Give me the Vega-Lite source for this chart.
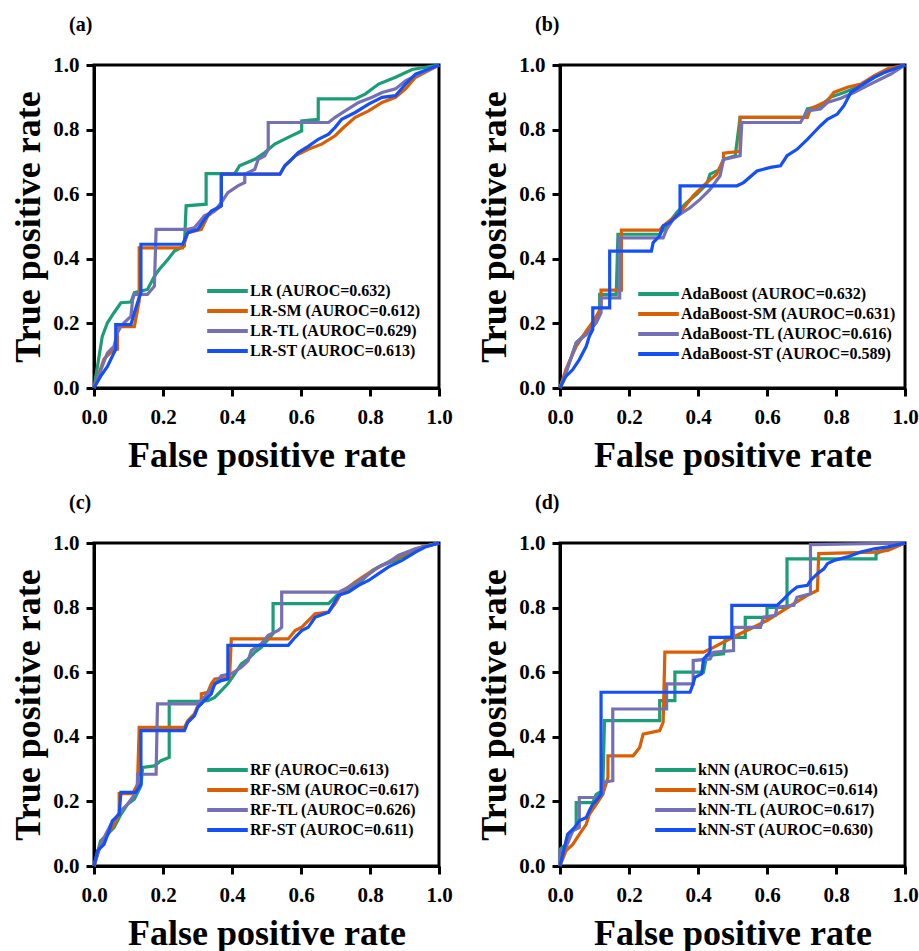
{
"$schema": "https://vega.github.io/schema/vega-lite/v6.json",
"padding": {"left": 9, "top": 13, "right": 0, "bottom": 0},
"datasets": {
"roc": [
{"p":"a","m":"LR (AUROC=0.632)","x":0,"y":0},{"p":"a","m":"LR (AUROC=0.632)","x":0.024,"y":0.16},{"p":"a","m":"LR (AUROC=0.632)","x":0.039,"y":0.202},{"p":"a","m":"LR (AUROC=0.632)","x":0.058,"y":0.233},{"p":"a","m":"LR (AUROC=0.632)","x":0.078,"y":0.264},{"p":"a","m":"LR (AUROC=0.632)","x":0.107,"y":0.266},{"p":"a","m":"LR (AUROC=0.632)","x":0.117,"y":0.295},{"p":"a","m":"LR (AUROC=0.632)","x":0.155,"y":0.305},{"p":"a","m":"LR (AUROC=0.632)","x":0.175,"y":0.346},{"p":"a","m":"LR (AUROC=0.632)","x":0.189,"y":0.367},{"p":"a","m":"LR (AUROC=0.632)","x":0.214,"y":0.398},{"p":"a","m":"LR (AUROC=0.632)","x":0.233,"y":0.424},{"p":"a","m":"LR (AUROC=0.632)","x":0.262,"y":0.44},{"p":"a","m":"LR (AUROC=0.632)","x":0.267,"y":0.564},{"p":"a","m":"LR (AUROC=0.632)","x":0.325,"y":0.569},{"p":"a","m":"LR (AUROC=0.632)","x":0.325,"y":0.664},{"p":"a","m":"LR (AUROC=0.632)","x":0.408,"y":0.664},{"p":"a","m":"LR (AUROC=0.632)","x":0.422,"y":0.688},{"p":"a","m":"LR (AUROC=0.632)","x":0.466,"y":0.708},{"p":"a","m":"LR (AUROC=0.632)","x":0.495,"y":0.729},{"p":"a","m":"LR (AUROC=0.632)","x":0.524,"y":0.755},{"p":"a","m":"LR (AUROC=0.632)","x":0.563,"y":0.776},{"p":"a","m":"LR (AUROC=0.632)","x":0.602,"y":0.796},{"p":"a","m":"LR (AUROC=0.632)","x":0.602,"y":0.827},{"p":"a","m":"LR (AUROC=0.632)","x":0.65,"y":0.832},{"p":"a","m":"LR (AUROC=0.632)","x":0.65,"y":0.895},{"p":"a","m":"LR (AUROC=0.632)","x":0.757,"y":0.895},{"p":"a","m":"LR (AUROC=0.632)","x":0.786,"y":0.91},{"p":"a","m":"LR (AUROC=0.632)","x":0.825,"y":0.941},{"p":"a","m":"LR (AUROC=0.632)","x":0.874,"y":0.962},{"p":"a","m":"LR (AUROC=0.632)","x":0.922,"y":0.986},{"p":"a","m":"LR (AUROC=0.632)","x":1,"y":1},
{"p":"a","m":"LR-SM (AUROC=0.612)","x":0,"y":0},{"p":"a","m":"LR-SM (AUROC=0.612)","x":0.029,"y":0.09},{"p":"a","m":"LR-SM (AUROC=0.612)","x":0.058,"y":0.12},{"p":"a","m":"LR-SM (AUROC=0.612)","x":0.068,"y":0.12},{"p":"a","m":"LR-SM (AUROC=0.612)","x":0.068,"y":0.19},{"p":"a","m":"LR-SM (AUROC=0.612)","x":0.117,"y":0.19},{"p":"a","m":"LR-SM (AUROC=0.612)","x":0.131,"y":0.27},{"p":"a","m":"LR-SM (AUROC=0.612)","x":0.131,"y":0.434},{"p":"a","m":"LR-SM (AUROC=0.612)","x":0.257,"y":0.434},{"p":"a","m":"LR-SM (AUROC=0.612)","x":0.272,"y":0.481},{"p":"a","m":"LR-SM (AUROC=0.612)","x":0.311,"y":0.491},{"p":"a","m":"LR-SM (AUROC=0.612)","x":0.33,"y":0.533},{"p":"a","m":"LR-SM (AUROC=0.612)","x":0.369,"y":0.564},{"p":"a","m":"LR-SM (AUROC=0.612)","x":0.369,"y":0.662},{"p":"a","m":"LR-SM (AUROC=0.612)","x":0.539,"y":0.662},{"p":"a","m":"LR-SM (AUROC=0.612)","x":0.553,"y":0.688},{"p":"a","m":"LR-SM (AUROC=0.612)","x":0.583,"y":0.719},{"p":"a","m":"LR-SM (AUROC=0.612)","x":0.621,"y":0.739},{"p":"a","m":"LR-SM (AUROC=0.612)","x":0.66,"y":0.755},{"p":"a","m":"LR-SM (AUROC=0.612)","x":0.699,"y":0.781},{"p":"a","m":"LR-SM (AUROC=0.612)","x":0.718,"y":0.801},{"p":"a","m":"LR-SM (AUROC=0.612)","x":0.757,"y":0.838},{"p":"a","m":"LR-SM (AUROC=0.612)","x":0.796,"y":0.858},{"p":"a","m":"LR-SM (AUROC=0.612)","x":0.835,"y":0.884},{"p":"a","m":"LR-SM (AUROC=0.612)","x":0.874,"y":0.9},{"p":"a","m":"LR-SM (AUROC=0.612)","x":0.903,"y":0.926},{"p":"a","m":"LR-SM (AUROC=0.612)","x":0.932,"y":0.962},{"p":"a","m":"LR-SM (AUROC=0.612)","x":1,"y":1},
{"p":"a","m":"LR-TL (AUROC=0.629)","x":0,"y":0},{"p":"a","m":"LR-TL (AUROC=0.629)","x":0.039,"y":0.109},{"p":"a","m":"LR-TL (AUROC=0.629)","x":0.058,"y":0.129},{"p":"a","m":"LR-TL (AUROC=0.629)","x":0.068,"y":0.171},{"p":"a","m":"LR-TL (AUROC=0.629)","x":0.078,"y":0.191},{"p":"a","m":"LR-TL (AUROC=0.629)","x":0.087,"y":0.202},{"p":"a","m":"LR-TL (AUROC=0.629)","x":0.107,"y":0.222},{"p":"a","m":"LR-TL (AUROC=0.629)","x":0.112,"y":0.274},{"p":"a","m":"LR-TL (AUROC=0.629)","x":0.117,"y":0.29},{"p":"a","m":"LR-TL (AUROC=0.629)","x":0.155,"y":0.29},{"p":"a","m":"LR-TL (AUROC=0.629)","x":0.175,"y":0.315},{"p":"a","m":"LR-TL (AUROC=0.629)","x":0.18,"y":0.491},{"p":"a","m":"LR-TL (AUROC=0.629)","x":0.272,"y":0.491},{"p":"a","m":"LR-TL (AUROC=0.629)","x":0.291,"y":0.496},{"p":"a","m":"LR-TL (AUROC=0.629)","x":0.32,"y":0.533},{"p":"a","m":"LR-TL (AUROC=0.629)","x":0.35,"y":0.548},{"p":"a","m":"LR-TL (AUROC=0.629)","x":0.369,"y":0.574},{"p":"a","m":"LR-TL (AUROC=0.629)","x":0.388,"y":0.605},{"p":"a","m":"LR-TL (AUROC=0.629)","x":0.417,"y":0.626},{"p":"a","m":"LR-TL (AUROC=0.629)","x":0.437,"y":0.636},{"p":"a","m":"LR-TL (AUROC=0.629)","x":0.437,"y":0.662},{"p":"a","m":"LR-TL (AUROC=0.629)","x":0.466,"y":0.677},{"p":"a","m":"LR-TL (AUROC=0.629)","x":0.476,"y":0.708},{"p":"a","m":"LR-TL (AUROC=0.629)","x":0.495,"y":0.719},{"p":"a","m":"LR-TL (AUROC=0.629)","x":0.505,"y":0.739},{"p":"a","m":"LR-TL (AUROC=0.629)","x":0.505,"y":0.822},{"p":"a","m":"LR-TL (AUROC=0.629)","x":0.68,"y":0.822},{"p":"a","m":"LR-TL (AUROC=0.629)","x":0.699,"y":0.838},{"p":"a","m":"LR-TL (AUROC=0.629)","x":0.728,"y":0.858},{"p":"a","m":"LR-TL (AUROC=0.629)","x":0.767,"y":0.884},{"p":"a","m":"LR-TL (AUROC=0.629)","x":0.806,"y":0.9},{"p":"a","m":"LR-TL (AUROC=0.629)","x":0.835,"y":0.915},{"p":"a","m":"LR-TL (AUROC=0.629)","x":0.874,"y":0.926},{"p":"a","m":"LR-TL (AUROC=0.629)","x":0.903,"y":0.951},{"p":"a","m":"LR-TL (AUROC=0.629)","x":0.942,"y":0.972},{"p":"a","m":"LR-TL (AUROC=0.629)","x":1,"y":1},
{"p":"a","m":"LR-ST (AUROC=0.613)","x":0,"y":0},{"p":"a","m":"LR-ST (AUROC=0.613)","x":0.019,"y":0.036},{"p":"a","m":"LR-ST (AUROC=0.613)","x":0.039,"y":0.067},{"p":"a","m":"LR-ST (AUROC=0.613)","x":0.058,"y":0.109},{"p":"a","m":"LR-ST (AUROC=0.613)","x":0.063,"y":0.119},{"p":"a","m":"LR-ST (AUROC=0.613)","x":0.063,"y":0.196},{"p":"a","m":"LR-ST (AUROC=0.613)","x":0.107,"y":0.196},{"p":"a","m":"LR-ST (AUROC=0.613)","x":0.117,"y":0.233},{"p":"a","m":"LR-ST (AUROC=0.613)","x":0.126,"y":0.264},{"p":"a","m":"LR-ST (AUROC=0.613)","x":0.136,"y":0.295},{"p":"a","m":"LR-ST (AUROC=0.613)","x":0.136,"y":0.445},{"p":"a","m":"LR-ST (AUROC=0.613)","x":0.257,"y":0.445},{"p":"a","m":"LR-ST (AUROC=0.613)","x":0.272,"y":0.481},{"p":"a","m":"LR-ST (AUROC=0.613)","x":0.301,"y":0.491},{"p":"a","m":"LR-ST (AUROC=0.613)","x":0.32,"y":0.522},{"p":"a","m":"LR-ST (AUROC=0.613)","x":0.34,"y":0.548},{"p":"a","m":"LR-ST (AUROC=0.613)","x":0.369,"y":0.564},{"p":"a","m":"LR-ST (AUROC=0.613)","x":0.369,"y":0.662},{"p":"a","m":"LR-ST (AUROC=0.613)","x":0.539,"y":0.662},{"p":"a","m":"LR-ST (AUROC=0.613)","x":0.553,"y":0.688},{"p":"a","m":"LR-ST (AUROC=0.613)","x":0.573,"y":0.708},{"p":"a","m":"LR-ST (AUROC=0.613)","x":0.592,"y":0.729},{"p":"a","m":"LR-ST (AUROC=0.613)","x":0.621,"y":0.748},{"p":"a","m":"LR-ST (AUROC=0.613)","x":0.65,"y":0.77},{"p":"a","m":"LR-ST (AUROC=0.613)","x":0.68,"y":0.786},{"p":"a","m":"LR-ST (AUROC=0.613)","x":0.699,"y":0.807},{"p":"a","m":"LR-ST (AUROC=0.613)","x":0.718,"y":0.832},{"p":"a","m":"LR-ST (AUROC=0.613)","x":0.757,"y":0.853},{"p":"a","m":"LR-ST (AUROC=0.613)","x":0.796,"y":0.879},{"p":"a","m":"LR-ST (AUROC=0.613)","x":0.835,"y":0.9},{"p":"a","m":"LR-ST (AUROC=0.613)","x":0.874,"y":0.905},{"p":"a","m":"LR-ST (AUROC=0.613)","x":0.903,"y":0.941},{"p":"a","m":"LR-ST (AUROC=0.613)","x":0.932,"y":0.972},{"p":"a","m":"LR-ST (AUROC=0.613)","x":1,"y":1},

{"p":"b","m":"AdaBoost (AUROC=0.632)","x":0,"y":0},{"p":"b","m":"AdaBoost (AUROC=0.632)","x":0.017,"y":0.047},{"p":"b","m":"AdaBoost (AUROC=0.632)","x":0.047,"y":0.14},{"p":"b","m":"AdaBoost (AUROC=0.632)","x":0.076,"y":0.171},{"p":"b","m":"AdaBoost (AUROC=0.632)","x":0.095,"y":0.202},{"p":"b","m":"AdaBoost (AUROC=0.632)","x":0.115,"y":0.233},{"p":"b","m":"AdaBoost (AUROC=0.632)","x":0.115,"y":0.29},{"p":"b","m":"AdaBoost (AUROC=0.632)","x":0.163,"y":0.29},{"p":"b","m":"AdaBoost (AUROC=0.632)","x":0.168,"y":0.476},{"p":"b","m":"AdaBoost (AUROC=0.632)","x":0.289,"y":0.476},{"p":"b","m":"AdaBoost (AUROC=0.632)","x":0.309,"y":0.502},{"p":"b","m":"AdaBoost (AUROC=0.632)","x":0.338,"y":0.543},{"p":"b","m":"AdaBoost (AUROC=0.632)","x":0.367,"y":0.574},{"p":"b","m":"AdaBoost (AUROC=0.632)","x":0.396,"y":0.6},{"p":"b","m":"AdaBoost (AUROC=0.632)","x":0.425,"y":0.631},{"p":"b","m":"AdaBoost (AUROC=0.632)","x":0.435,"y":0.662},{"p":"b","m":"AdaBoost (AUROC=0.632)","x":0.464,"y":0.677},{"p":"b","m":"AdaBoost (AUROC=0.632)","x":0.474,"y":0.708},{"p":"b","m":"AdaBoost (AUROC=0.632)","x":0.508,"y":0.719},{"p":"b","m":"AdaBoost (AUROC=0.632)","x":0.522,"y":0.838},{"p":"b","m":"AdaBoost (AUROC=0.632)","x":0.707,"y":0.838},{"p":"b","m":"AdaBoost (AUROC=0.632)","x":0.717,"y":0.864},{"p":"b","m":"AdaBoost (AUROC=0.632)","x":0.755,"y":0.874},{"p":"b","m":"AdaBoost (AUROC=0.632)","x":0.784,"y":0.9},{"p":"b","m":"AdaBoost (AUROC=0.632)","x":0.823,"y":0.915},{"p":"b","m":"AdaBoost (AUROC=0.632)","x":0.872,"y":0.936},{"p":"b","m":"AdaBoost (AUROC=0.632)","x":0.911,"y":0.962},{"p":"b","m":"AdaBoost (AUROC=0.632)","x":0.95,"y":0.982},{"p":"b","m":"AdaBoost (AUROC=0.632)","x":1,"y":1},
{"p":"b","m":"AdaBoost-SM (AUROC=0.631)","x":0,"y":0},{"p":"b","m":"AdaBoost-SM (AUROC=0.631)","x":0.017,"y":0.057},{"p":"b","m":"AdaBoost-SM (AUROC=0.631)","x":0.047,"y":0.129},{"p":"b","m":"AdaBoost-SM (AUROC=0.631)","x":0.076,"y":0.176},{"p":"b","m":"AdaBoost-SM (AUROC=0.631)","x":0.1,"y":0.212},{"p":"b","m":"AdaBoost-SM (AUROC=0.631)","x":0.119,"y":0.248},{"p":"b","m":"AdaBoost-SM (AUROC=0.631)","x":0.119,"y":0.303},{"p":"b","m":"AdaBoost-SM (AUROC=0.631)","x":0.178,"y":0.303},{"p":"b","m":"AdaBoost-SM (AUROC=0.631)","x":0.178,"y":0.489},{"p":"b","m":"AdaBoost-SM (AUROC=0.631)","x":0.289,"y":0.489},{"p":"b","m":"AdaBoost-SM (AUROC=0.631)","x":0.299,"y":0.502},{"p":"b","m":"AdaBoost-SM (AUROC=0.631)","x":0.328,"y":0.527},{"p":"b","m":"AdaBoost-SM (AUROC=0.631)","x":0.348,"y":0.543},{"p":"b","m":"AdaBoost-SM (AUROC=0.631)","x":0.386,"y":0.595},{"p":"b","m":"AdaBoost-SM (AUROC=0.631)","x":0.425,"y":0.636},{"p":"b","m":"AdaBoost-SM (AUROC=0.631)","x":0.454,"y":0.662},{"p":"b","m":"AdaBoost-SM (AUROC=0.631)","x":0.474,"y":0.708},{"p":"b","m":"AdaBoost-SM (AUROC=0.631)","x":0.474,"y":0.727},{"p":"b","m":"AdaBoost-SM (AUROC=0.631)","x":0.522,"y":0.733},{"p":"b","m":"AdaBoost-SM (AUROC=0.631)","x":0.522,"y":0.838},{"p":"b","m":"AdaBoost-SM (AUROC=0.631)","x":0.717,"y":0.838},{"p":"b","m":"AdaBoost-SM (AUROC=0.631)","x":0.726,"y":0.864},{"p":"b","m":"AdaBoost-SM (AUROC=0.631)","x":0.775,"y":0.889},{"p":"b","m":"AdaBoost-SM (AUROC=0.631)","x":0.794,"y":0.915},{"p":"b","m":"AdaBoost-SM (AUROC=0.631)","x":0.833,"y":0.931},{"p":"b","m":"AdaBoost-SM (AUROC=0.631)","x":0.872,"y":0.941},{"p":"b","m":"AdaBoost-SM (AUROC=0.631)","x":0.911,"y":0.967},{"p":"b","m":"AdaBoost-SM (AUROC=0.631)","x":0.95,"y":0.988},{"p":"b","m":"AdaBoost-SM (AUROC=0.631)","x":1,"y":1},
{"p":"b","m":"AdaBoost-TL (AUROC=0.616)","x":0,"y":0},{"p":"b","m":"AdaBoost-TL (AUROC=0.616)","x":0.017,"y":0.047},{"p":"b","m":"AdaBoost-TL (AUROC=0.616)","x":0.037,"y":0.109},{"p":"b","m":"AdaBoost-TL (AUROC=0.616)","x":0.047,"y":0.14},{"p":"b","m":"AdaBoost-TL (AUROC=0.616)","x":0.076,"y":0.165},{"p":"b","m":"AdaBoost-TL (AUROC=0.616)","x":0.105,"y":0.202},{"p":"b","m":"AdaBoost-TL (AUROC=0.616)","x":0.119,"y":0.233},{"p":"b","m":"AdaBoost-TL (AUROC=0.616)","x":0.119,"y":0.279},{"p":"b","m":"AdaBoost-TL (AUROC=0.616)","x":0.173,"y":0.279},{"p":"b","m":"AdaBoost-TL (AUROC=0.616)","x":0.173,"y":0.465},{"p":"b","m":"AdaBoost-TL (AUROC=0.616)","x":0.299,"y":0.465},{"p":"b","m":"AdaBoost-TL (AUROC=0.616)","x":0.309,"y":0.491},{"p":"b","m":"AdaBoost-TL (AUROC=0.616)","x":0.328,"y":0.522},{"p":"b","m":"AdaBoost-TL (AUROC=0.616)","x":0.348,"y":0.538},{"p":"b","m":"AdaBoost-TL (AUROC=0.616)","x":0.377,"y":0.558},{"p":"b","m":"AdaBoost-TL (AUROC=0.616)","x":0.406,"y":0.584},{"p":"b","m":"AdaBoost-TL (AUROC=0.616)","x":0.435,"y":0.615},{"p":"b","m":"AdaBoost-TL (AUROC=0.616)","x":0.464,"y":0.657},{"p":"b","m":"AdaBoost-TL (AUROC=0.616)","x":0.474,"y":0.708},{"p":"b","m":"AdaBoost-TL (AUROC=0.616)","x":0.522,"y":0.719},{"p":"b","m":"AdaBoost-TL (AUROC=0.616)","x":0.527,"y":0.822},{"p":"b","m":"AdaBoost-TL (AUROC=0.616)","x":0.697,"y":0.822},{"p":"b","m":"AdaBoost-TL (AUROC=0.616)","x":0.717,"y":0.858},{"p":"b","m":"AdaBoost-TL (AUROC=0.616)","x":0.755,"y":0.864},{"p":"b","m":"AdaBoost-TL (AUROC=0.616)","x":0.775,"y":0.884},{"p":"b","m":"AdaBoost-TL (AUROC=0.616)","x":0.814,"y":0.897},{"p":"b","m":"AdaBoost-TL (AUROC=0.616)","x":0.852,"y":0.915},{"p":"b","m":"AdaBoost-TL (AUROC=0.616)","x":0.891,"y":0.936},{"p":"b","m":"AdaBoost-TL (AUROC=0.616)","x":0.94,"y":0.962},{"p":"b","m":"AdaBoost-TL (AUROC=0.616)","x":0.959,"y":0.972},{"p":"b","m":"AdaBoost-TL (AUROC=0.616)","x":1,"y":1},
{"p":"b","m":"AdaBoost-ST (AUROC=0.589)","x":0,"y":0},{"p":"b","m":"AdaBoost-ST (AUROC=0.589)","x":0.017,"y":0.036},{"p":"b","m":"AdaBoost-ST (AUROC=0.589)","x":0.037,"y":0.057},{"p":"b","m":"AdaBoost-ST (AUROC=0.589)","x":0.056,"y":0.088},{"p":"b","m":"AdaBoost-ST (AUROC=0.589)","x":0.076,"y":0.129},{"p":"b","m":"AdaBoost-ST (AUROC=0.589)","x":0.085,"y":0.16},{"p":"b","m":"AdaBoost-ST (AUROC=0.589)","x":0.095,"y":0.181},{"p":"b","m":"AdaBoost-ST (AUROC=0.589)","x":0.095,"y":0.248},{"p":"b","m":"AdaBoost-ST (AUROC=0.589)","x":0.144,"y":0.248},{"p":"b","m":"AdaBoost-ST (AUROC=0.589)","x":0.144,"y":0.424},{"p":"b","m":"AdaBoost-ST (AUROC=0.589)","x":0.265,"y":0.424},{"p":"b","m":"AdaBoost-ST (AUROC=0.589)","x":0.27,"y":0.45},{"p":"b","m":"AdaBoost-ST (AUROC=0.589)","x":0.289,"y":0.471},{"p":"b","m":"AdaBoost-ST (AUROC=0.589)","x":0.299,"y":0.502},{"p":"b","m":"AdaBoost-ST (AUROC=0.589)","x":0.318,"y":0.512},{"p":"b","m":"AdaBoost-ST (AUROC=0.589)","x":0.338,"y":0.533},{"p":"b","m":"AdaBoost-ST (AUROC=0.589)","x":0.348,"y":0.543},{"p":"b","m":"AdaBoost-ST (AUROC=0.589)","x":0.348,"y":0.626},{"p":"b","m":"AdaBoost-ST (AUROC=0.589)","x":0.513,"y":0.626},{"p":"b","m":"AdaBoost-ST (AUROC=0.589)","x":0.532,"y":0.636},{"p":"b","m":"AdaBoost-ST (AUROC=0.589)","x":0.571,"y":0.672},{"p":"b","m":"AdaBoost-ST (AUROC=0.589)","x":0.61,"y":0.683},{"p":"b","m":"AdaBoost-ST (AUROC=0.589)","x":0.639,"y":0.688},{"p":"b","m":"AdaBoost-ST (AUROC=0.589)","x":0.658,"y":0.719},{"p":"b","m":"AdaBoost-ST (AUROC=0.589)","x":0.687,"y":0.739},{"p":"b","m":"AdaBoost-ST (AUROC=0.589)","x":0.717,"y":0.77},{"p":"b","m":"AdaBoost-ST (AUROC=0.589)","x":0.736,"y":0.791},{"p":"b","m":"AdaBoost-ST (AUROC=0.589)","x":0.755,"y":0.812},{"p":"b","m":"AdaBoost-ST (AUROC=0.589)","x":0.775,"y":0.832},{"p":"b","m":"AdaBoost-ST (AUROC=0.589)","x":0.804,"y":0.848},{"p":"b","m":"AdaBoost-ST (AUROC=0.589)","x":0.823,"y":0.874},{"p":"b","m":"AdaBoost-ST (AUROC=0.589)","x":0.843,"y":0.915},{"p":"b","m":"AdaBoost-ST (AUROC=0.589)","x":0.872,"y":0.936},{"p":"b","m":"AdaBoost-ST (AUROC=0.589)","x":0.911,"y":0.962},{"p":"b","m":"AdaBoost-ST (AUROC=0.589)","x":0.94,"y":0.977},{"p":"b","m":"AdaBoost-ST (AUROC=0.589)","x":1,"y":1},

{"p":"c","m":"RF (AUROC=0.613)","x":0,"y":0},{"p":"c","m":"RF (AUROC=0.613)","x":0.019,"y":0.078},{"p":"c","m":"RF (AUROC=0.613)","x":0.039,"y":0.098},{"p":"c","m":"RF (AUROC=0.613)","x":0.058,"y":0.119},{"p":"c","m":"RF (AUROC=0.613)","x":0.078,"y":0.16},{"p":"c","m":"RF (AUROC=0.613)","x":0.097,"y":0.191},{"p":"c","m":"RF (AUROC=0.613)","x":0.117,"y":0.207},{"p":"c","m":"RF (AUROC=0.613)","x":0.136,"y":0.248},{"p":"c","m":"RF (AUROC=0.613)","x":0.141,"y":0.305},{"p":"c","m":"RF (AUROC=0.613)","x":0.175,"y":0.31},{"p":"c","m":"RF (AUROC=0.613)","x":0.194,"y":0.326},{"p":"c","m":"RF (AUROC=0.613)","x":0.218,"y":0.336},{"p":"c","m":"RF (AUROC=0.613)","x":0.218,"y":0.51},{"p":"c","m":"RF (AUROC=0.613)","x":0.301,"y":0.51},{"p":"c","m":"RF (AUROC=0.613)","x":0.33,"y":0.512},{"p":"c","m":"RF (AUROC=0.613)","x":0.35,"y":0.522},{"p":"c","m":"RF (AUROC=0.613)","x":0.369,"y":0.543},{"p":"c","m":"RF (AUROC=0.613)","x":0.388,"y":0.564},{"p":"c","m":"RF (AUROC=0.613)","x":0.408,"y":0.595},{"p":"c","m":"RF (AUROC=0.613)","x":0.427,"y":0.626},{"p":"c","m":"RF (AUROC=0.613)","x":0.447,"y":0.641},{"p":"c","m":"RF (AUROC=0.613)","x":0.466,"y":0.662},{"p":"c","m":"RF (AUROC=0.613)","x":0.485,"y":0.677},{"p":"c","m":"RF (AUROC=0.613)","x":0.51,"y":0.708},{"p":"c","m":"RF (AUROC=0.613)","x":0.519,"y":0.719},{"p":"c","m":"RF (AUROC=0.613)","x":0.519,"y":0.812},{"p":"c","m":"RF (AUROC=0.613)","x":0.68,"y":0.812},{"p":"c","m":"RF (AUROC=0.613)","x":0.704,"y":0.838},{"p":"c","m":"RF (AUROC=0.613)","x":0.738,"y":0.853},{"p":"c","m":"RF (AUROC=0.613)","x":0.777,"y":0.884},{"p":"c","m":"RF (AUROC=0.613)","x":0.806,"y":0.915},{"p":"c","m":"RF (AUROC=0.613)","x":0.835,"y":0.931},{"p":"c","m":"RF (AUROC=0.613)","x":0.874,"y":0.946},{"p":"c","m":"RF (AUROC=0.613)","x":0.913,"y":0.967},{"p":"c","m":"RF (AUROC=0.613)","x":0.951,"y":0.988},{"p":"c","m":"RF (AUROC=0.613)","x":1,"y":1},
{"p":"c","m":"RF-SM (AUROC=0.617)","x":0,"y":0},{"p":"c","m":"RF-SM (AUROC=0.617)","x":0.019,"y":0.067},{"p":"c","m":"RF-SM (AUROC=0.617)","x":0.039,"y":0.098},{"p":"c","m":"RF-SM (AUROC=0.617)","x":0.058,"y":0.129},{"p":"c","m":"RF-SM (AUROC=0.617)","x":0.073,"y":0.16},{"p":"c","m":"RF-SM (AUROC=0.617)","x":0.073,"y":0.224},{"p":"c","m":"RF-SM (AUROC=0.617)","x":0.112,"y":0.224},{"p":"c","m":"RF-SM (AUROC=0.617)","x":0.126,"y":0.253},{"p":"c","m":"RF-SM (AUROC=0.617)","x":0.131,"y":0.429},{"p":"c","m":"RF-SM (AUROC=0.617)","x":0.262,"y":0.429},{"p":"c","m":"RF-SM (AUROC=0.617)","x":0.272,"y":0.45},{"p":"c","m":"RF-SM (AUROC=0.617)","x":0.291,"y":0.471},{"p":"c","m":"RF-SM (AUROC=0.617)","x":0.301,"y":0.496},{"p":"c","m":"RF-SM (AUROC=0.617)","x":0.311,"y":0.502},{"p":"c","m":"RF-SM (AUROC=0.617)","x":0.311,"y":0.533},{"p":"c","m":"RF-SM (AUROC=0.617)","x":0.33,"y":0.538},{"p":"c","m":"RF-SM (AUROC=0.617)","x":0.34,"y":0.564},{"p":"c","m":"RF-SM (AUROC=0.617)","x":0.35,"y":0.579},{"p":"c","m":"RF-SM (AUROC=0.617)","x":0.393,"y":0.584},{"p":"c","m":"RF-SM (AUROC=0.617)","x":0.398,"y":0.703},{"p":"c","m":"RF-SM (AUROC=0.617)","x":0.563,"y":0.703},{"p":"c","m":"RF-SM (AUROC=0.617)","x":0.583,"y":0.729},{"p":"c","m":"RF-SM (AUROC=0.617)","x":0.602,"y":0.739},{"p":"c","m":"RF-SM (AUROC=0.617)","x":0.621,"y":0.76},{"p":"c","m":"RF-SM (AUROC=0.617)","x":0.641,"y":0.781},{"p":"c","m":"RF-SM (AUROC=0.617)","x":0.68,"y":0.786},{"p":"c","m":"RF-SM (AUROC=0.617)","x":0.699,"y":0.812},{"p":"c","m":"RF-SM (AUROC=0.617)","x":0.718,"y":0.848},{"p":"c","m":"RF-SM (AUROC=0.617)","x":0.757,"y":0.879},{"p":"c","m":"RF-SM (AUROC=0.617)","x":0.786,"y":0.9},{"p":"c","m":"RF-SM (AUROC=0.617)","x":0.816,"y":0.92},{"p":"c","m":"RF-SM (AUROC=0.617)","x":0.854,"y":0.941},{"p":"c","m":"RF-SM (AUROC=0.617)","x":0.893,"y":0.962},{"p":"c","m":"RF-SM (AUROC=0.617)","x":0.932,"y":0.982},{"p":"c","m":"RF-SM (AUROC=0.617)","x":1,"y":1},
{"p":"c","m":"RF-TL (AUROC=0.626)","x":0,"y":0},{"p":"c","m":"RF-TL (AUROC=0.626)","x":0.019,"y":0.067},{"p":"c","m":"RF-TL (AUROC=0.626)","x":0.049,"y":0.129},{"p":"c","m":"RF-TL (AUROC=0.626)","x":0.078,"y":0.171},{"p":"c","m":"RF-TL (AUROC=0.626)","x":0.097,"y":0.191},{"p":"c","m":"RF-TL (AUROC=0.626)","x":0.126,"y":0.233},{"p":"c","m":"RF-TL (AUROC=0.626)","x":0.126,"y":0.284},{"p":"c","m":"RF-TL (AUROC=0.626)","x":0.18,"y":0.284},{"p":"c","m":"RF-TL (AUROC=0.626)","x":0.184,"y":0.502},{"p":"c","m":"RF-TL (AUROC=0.626)","x":0.296,"y":0.502},{"p":"c","m":"RF-TL (AUROC=0.626)","x":0.311,"y":0.512},{"p":"c","m":"RF-TL (AUROC=0.626)","x":0.34,"y":0.548},{"p":"c","m":"RF-TL (AUROC=0.626)","x":0.369,"y":0.589},{"p":"c","m":"RF-TL (AUROC=0.626)","x":0.398,"y":0.595},{"p":"c","m":"RF-TL (AUROC=0.626)","x":0.427,"y":0.615},{"p":"c","m":"RF-TL (AUROC=0.626)","x":0.447,"y":0.636},{"p":"c","m":"RF-TL (AUROC=0.626)","x":0.456,"y":0.667},{"p":"c","m":"RF-TL (AUROC=0.626)","x":0.485,"y":0.688},{"p":"c","m":"RF-TL (AUROC=0.626)","x":0.505,"y":0.714},{"p":"c","m":"RF-TL (AUROC=0.626)","x":0.534,"y":0.729},{"p":"c","m":"RF-TL (AUROC=0.626)","x":0.544,"y":0.739},{"p":"c","m":"RF-TL (AUROC=0.626)","x":0.544,"y":0.848},{"p":"c","m":"RF-TL (AUROC=0.626)","x":0.709,"y":0.848},{"p":"c","m":"RF-TL (AUROC=0.626)","x":0.728,"y":0.858},{"p":"c","m":"RF-TL (AUROC=0.626)","x":0.757,"y":0.874},{"p":"c","m":"RF-TL (AUROC=0.626)","x":0.786,"y":0.895},{"p":"c","m":"RF-TL (AUROC=0.626)","x":0.825,"y":0.926},{"p":"c","m":"RF-TL (AUROC=0.626)","x":0.854,"y":0.941},{"p":"c","m":"RF-TL (AUROC=0.626)","x":0.883,"y":0.962},{"p":"c","m":"RF-TL (AUROC=0.626)","x":0.932,"y":0.982},{"p":"c","m":"RF-TL (AUROC=0.626)","x":1,"y":1},
{"p":"c","m":"RF-ST (AUROC=0.611)","x":0,"y":0},{"p":"c","m":"RF-ST (AUROC=0.611)","x":0.01,"y":0.047},{"p":"c","m":"RF-ST (AUROC=0.611)","x":0.029,"y":0.067},{"p":"c","m":"RF-ST (AUROC=0.611)","x":0.044,"y":0.109},{"p":"c","m":"RF-ST (AUROC=0.611)","x":0.053,"y":0.14},{"p":"c","m":"RF-ST (AUROC=0.611)","x":0.073,"y":0.16},{"p":"c","m":"RF-ST (AUROC=0.611)","x":0.078,"y":0.228},{"p":"c","m":"RF-ST (AUROC=0.611)","x":0.121,"y":0.228},{"p":"c","m":"RF-ST (AUROC=0.611)","x":0.136,"y":0.253},{"p":"c","m":"RF-ST (AUROC=0.611)","x":0.136,"y":0.419},{"p":"c","m":"RF-ST (AUROC=0.611)","x":0.262,"y":0.419},{"p":"c","m":"RF-ST (AUROC=0.611)","x":0.272,"y":0.445},{"p":"c","m":"RF-ST (AUROC=0.611)","x":0.291,"y":0.465},{"p":"c","m":"RF-ST (AUROC=0.611)","x":0.301,"y":0.491},{"p":"c","m":"RF-ST (AUROC=0.611)","x":0.32,"y":0.512},{"p":"c","m":"RF-ST (AUROC=0.611)","x":0.34,"y":0.533},{"p":"c","m":"RF-ST (AUROC=0.611)","x":0.35,"y":0.564},{"p":"c","m":"RF-ST (AUROC=0.611)","x":0.369,"y":0.574},{"p":"c","m":"RF-ST (AUROC=0.611)","x":0.388,"y":0.579},{"p":"c","m":"RF-ST (AUROC=0.611)","x":0.388,"y":0.683},{"p":"c","m":"RF-ST (AUROC=0.611)","x":0.563,"y":0.683},{"p":"c","m":"RF-ST (AUROC=0.611)","x":0.583,"y":0.708},{"p":"c","m":"RF-ST (AUROC=0.611)","x":0.602,"y":0.729},{"p":"c","m":"RF-ST (AUROC=0.611)","x":0.621,"y":0.739},{"p":"c","m":"RF-ST (AUROC=0.611)","x":0.641,"y":0.77},{"p":"c","m":"RF-ST (AUROC=0.611)","x":0.68,"y":0.786},{"p":"c","m":"RF-ST (AUROC=0.611)","x":0.709,"y":0.838},{"p":"c","m":"RF-ST (AUROC=0.611)","x":0.738,"y":0.848},{"p":"c","m":"RF-ST (AUROC=0.611)","x":0.767,"y":0.869},{"p":"c","m":"RF-ST (AUROC=0.611)","x":0.796,"y":0.884},{"p":"c","m":"RF-ST (AUROC=0.611)","x":0.825,"y":0.905},{"p":"c","m":"RF-ST (AUROC=0.611)","x":0.854,"y":0.926},{"p":"c","m":"RF-ST (AUROC=0.611)","x":0.893,"y":0.946},{"p":"c","m":"RF-ST (AUROC=0.611)","x":0.932,"y":0.972},{"p":"c","m":"RF-ST (AUROC=0.611)","x":0.961,"y":0.988},{"p":"c","m":"RF-ST (AUROC=0.611)","x":1,"y":1},

{"p":"d","m":"kNN (AUROC=0.615)","x":0,"y":0},{"p":"d","m":"kNN (AUROC=0.615)","x":0,"y":0.052},{"p":"d","m":"kNN (AUROC=0.615)","x":0.017,"y":0.067},{"p":"d","m":"kNN (AUROC=0.615)","x":0.037,"y":0.109},{"p":"d","m":"kNN (AUROC=0.615)","x":0.047,"y":0.124},{"p":"d","m":"kNN (AUROC=0.615)","x":0.047,"y":0.196},{"p":"d","m":"kNN (AUROC=0.615)","x":0.095,"y":0.196},{"p":"d","m":"kNN (AUROC=0.615)","x":0.105,"y":0.222},{"p":"d","m":"kNN (AUROC=0.615)","x":0.124,"y":0.233},{"p":"d","m":"kNN (AUROC=0.615)","x":0.129,"y":0.45},{"p":"d","m":"kNN (AUROC=0.615)","x":0.289,"y":0.45},{"p":"d","m":"kNN (AUROC=0.615)","x":0.289,"y":0.512},{"p":"d","m":"kNN (AUROC=0.615)","x":0.333,"y":0.512},{"p":"d","m":"kNN (AUROC=0.615)","x":0.333,"y":0.6},{"p":"d","m":"kNN (AUROC=0.615)","x":0.416,"y":0.6},{"p":"d","m":"kNN (AUROC=0.615)","x":0.425,"y":0.651},{"p":"d","m":"kNN (AUROC=0.615)","x":0.474,"y":0.657},{"p":"d","m":"kNN (AUROC=0.615)","x":0.479,"y":0.708},{"p":"d","m":"kNN (AUROC=0.615)","x":0.537,"y":0.708},{"p":"d","m":"kNN (AUROC=0.615)","x":0.537,"y":0.77},{"p":"d","m":"kNN (AUROC=0.615)","x":0.6,"y":0.77},{"p":"d","m":"kNN (AUROC=0.615)","x":0.6,"y":0.801},{"p":"d","m":"kNN (AUROC=0.615)","x":0.658,"y":0.801},{"p":"d","m":"kNN (AUROC=0.615)","x":0.658,"y":0.951},{"p":"d","m":"kNN (AUROC=0.615)","x":0.916,"y":0.951},{"p":"d","m":"kNN (AUROC=0.615)","x":0.916,"y":0.967},{"p":"d","m":"kNN (AUROC=0.615)","x":0.95,"y":0.982},{"p":"d","m":"kNN (AUROC=0.615)","x":1,"y":1},
{"p":"d","m":"kNN-SM (AUROC=0.614)","x":0,"y":0},{"p":"d","m":"kNN-SM (AUROC=0.614)","x":0.017,"y":0.047},{"p":"d","m":"kNN-SM (AUROC=0.614)","x":0.037,"y":0.067},{"p":"d","m":"kNN-SM (AUROC=0.614)","x":0.056,"y":0.098},{"p":"d","m":"kNN-SM (AUROC=0.614)","x":0.076,"y":0.129},{"p":"d","m":"kNN-SM (AUROC=0.614)","x":0.085,"y":0.16},{"p":"d","m":"kNN-SM (AUROC=0.614)","x":0.105,"y":0.191},{"p":"d","m":"kNN-SM (AUROC=0.614)","x":0.124,"y":0.222},{"p":"d","m":"kNN-SM (AUROC=0.614)","x":0.139,"y":0.274},{"p":"d","m":"kNN-SM (AUROC=0.614)","x":0.139,"y":0.341},{"p":"d","m":"kNN-SM (AUROC=0.614)","x":0.212,"y":0.341},{"p":"d","m":"kNN-SM (AUROC=0.614)","x":0.231,"y":0.367},{"p":"d","m":"kNN-SM (AUROC=0.614)","x":0.241,"y":0.408},{"p":"d","m":"kNN-SM (AUROC=0.614)","x":0.289,"y":0.419},{"p":"d","m":"kNN-SM (AUROC=0.614)","x":0.299,"y":0.445},{"p":"d","m":"kNN-SM (AUROC=0.614)","x":0.304,"y":0.662},{"p":"d","m":"kNN-SM (AUROC=0.614)","x":0.416,"y":0.662},{"p":"d","m":"kNN-SM (AUROC=0.614)","x":0.445,"y":0.677},{"p":"d","m":"kNN-SM (AUROC=0.614)","x":0.483,"y":0.698},{"p":"d","m":"kNN-SM (AUROC=0.614)","x":0.522,"y":0.719},{"p":"d","m":"kNN-SM (AUROC=0.614)","x":0.561,"y":0.739},{"p":"d","m":"kNN-SM (AUROC=0.614)","x":0.6,"y":0.76},{"p":"d","m":"kNN-SM (AUROC=0.614)","x":0.639,"y":0.786},{"p":"d","m":"kNN-SM (AUROC=0.614)","x":0.678,"y":0.812},{"p":"d","m":"kNN-SM (AUROC=0.614)","x":0.717,"y":0.838},{"p":"d","m":"kNN-SM (AUROC=0.614)","x":0.746,"y":0.853},{"p":"d","m":"kNN-SM (AUROC=0.614)","x":0.75,"y":0.967},{"p":"d","m":"kNN-SM (AUROC=0.614)","x":0.911,"y":0.972},{"p":"d","m":"kNN-SM (AUROC=0.614)","x":0.95,"y":0.977},{"p":"d","m":"kNN-SM (AUROC=0.614)","x":1,"y":1},
{"p":"d","m":"kNN-TL (AUROC=0.617)","x":0,"y":0},{"p":"d","m":"kNN-TL (AUROC=0.617)","x":0,"y":0.047},{"p":"d","m":"kNN-TL (AUROC=0.617)","x":0.017,"y":0.057},{"p":"d","m":"kNN-TL (AUROC=0.617)","x":0.037,"y":0.109},{"p":"d","m":"kNN-TL (AUROC=0.617)","x":0.056,"y":0.119},{"p":"d","m":"kNN-TL (AUROC=0.617)","x":0.056,"y":0.212},{"p":"d","m":"kNN-TL (AUROC=0.617)","x":0.105,"y":0.212},{"p":"d","m":"kNN-TL (AUROC=0.617)","x":0.124,"y":0.222},{"p":"d","m":"kNN-TL (AUROC=0.617)","x":0.124,"y":0.259},{"p":"d","m":"kNN-TL (AUROC=0.617)","x":0.153,"y":0.264},{"p":"d","m":"kNN-TL (AUROC=0.617)","x":0.153,"y":0.486},{"p":"d","m":"kNN-TL (AUROC=0.617)","x":0.309,"y":0.486},{"p":"d","m":"kNN-TL (AUROC=0.617)","x":0.309,"y":0.564},{"p":"d","m":"kNN-TL (AUROC=0.617)","x":0.386,"y":0.564},{"p":"d","m":"kNN-TL (AUROC=0.617)","x":0.386,"y":0.636},{"p":"d","m":"kNN-TL (AUROC=0.617)","x":0.435,"y":0.641},{"p":"d","m":"kNN-TL (AUROC=0.617)","x":0.445,"y":0.662},{"p":"d","m":"kNN-TL (AUROC=0.617)","x":0.503,"y":0.667},{"p":"d","m":"kNN-TL (AUROC=0.617)","x":0.503,"y":0.739},{"p":"d","m":"kNN-TL (AUROC=0.617)","x":0.581,"y":0.739},{"p":"d","m":"kNN-TL (AUROC=0.617)","x":0.59,"y":0.77},{"p":"d","m":"kNN-TL (AUROC=0.617)","x":0.624,"y":0.776},{"p":"d","m":"kNN-TL (AUROC=0.617)","x":0.629,"y":0.801},{"p":"d","m":"kNN-TL (AUROC=0.617)","x":0.678,"y":0.807},{"p":"d","m":"kNN-TL (AUROC=0.617)","x":0.687,"y":0.832},{"p":"d","m":"kNN-TL (AUROC=0.617)","x":0.726,"y":0.843},{"p":"d","m":"kNN-TL (AUROC=0.617)","x":0.726,"y":0.995},{"p":"d","m":"kNN-TL (AUROC=0.617)","x":1,"y":1},
{"p":"d","m":"kNN-ST (AUROC=0.630)","x":0,"y":0},{"p":"d","m":"kNN-ST (AUROC=0.630)","x":0.022,"y":0.098},{"p":"d","m":"kNN-ST (AUROC=0.630)","x":0.042,"y":0.119},{"p":"d","m":"kNN-ST (AUROC=0.630)","x":0.056,"y":0.14},{"p":"d","m":"kNN-ST (AUROC=0.630)","x":0.076,"y":0.15},{"p":"d","m":"kNN-ST (AUROC=0.630)","x":0.085,"y":0.171},{"p":"d","m":"kNN-ST (AUROC=0.630)","x":0.095,"y":0.191},{"p":"d","m":"kNN-ST (AUROC=0.630)","x":0.105,"y":0.202},{"p":"d","m":"kNN-ST (AUROC=0.630)","x":0.119,"y":0.222},{"p":"d","m":"kNN-ST (AUROC=0.630)","x":0.119,"y":0.538},{"p":"d","m":"kNN-ST (AUROC=0.630)","x":0.377,"y":0.538},{"p":"d","m":"kNN-ST (AUROC=0.630)","x":0.386,"y":0.564},{"p":"d","m":"kNN-ST (AUROC=0.630)","x":0.391,"y":0.584},{"p":"d","m":"kNN-ST (AUROC=0.630)","x":0.411,"y":0.595},{"p":"d","m":"kNN-ST (AUROC=0.630)","x":0.416,"y":0.641},{"p":"d","m":"kNN-ST (AUROC=0.630)","x":0.435,"y":0.662},{"p":"d","m":"kNN-ST (AUROC=0.630)","x":0.435,"y":0.708},{"p":"d","m":"kNN-ST (AUROC=0.630)","x":0.498,"y":0.708},{"p":"d","m":"kNN-ST (AUROC=0.630)","x":0.498,"y":0.807},{"p":"d","m":"kNN-ST (AUROC=0.630)","x":0.629,"y":0.807},{"p":"d","m":"kNN-ST (AUROC=0.630)","x":0.649,"y":0.827},{"p":"d","m":"kNN-ST (AUROC=0.630)","x":0.668,"y":0.848},{"p":"d","m":"kNN-ST (AUROC=0.630)","x":0.687,"y":0.864},{"p":"d","m":"kNN-ST (AUROC=0.630)","x":0.717,"y":0.869},{"p":"d","m":"kNN-ST (AUROC=0.630)","x":0.726,"y":0.884},{"p":"d","m":"kNN-ST (AUROC=0.630)","x":0.746,"y":0.905},{"p":"d","m":"kNN-ST (AUROC=0.630)","x":0.765,"y":0.92},{"p":"d","m":"kNN-ST (AUROC=0.630)","x":0.775,"y":0.936},{"p":"d","m":"kNN-ST (AUROC=0.630)","x":0.794,"y":0.946},{"p":"d","m":"kNN-ST (AUROC=0.630)","x":0.833,"y":0.957},{"p":"d","m":"kNN-ST (AUROC=0.630)","x":0.872,"y":0.972},{"p":"d","m":"kNN-ST (AUROC=0.630)","x":0.911,"y":0.982},{"p":"d","m":"kNN-ST (AUROC=0.630)","x":0.95,"y":0.988},{"p":"d","m":"kNN-ST (AUROC=0.630)","x":1,"y":1}
]
},
"data": {"name": "roc"},
"columns": 2,
"bounds": "flush",
"spacing": {"row": 155, "column": 121},
"resolve": {"scale": {"color": "independent"}},
"concat": [
{
"title": {"text": "(a)"},
"width": 345, "height": 323,
"transform": [{"filter": "datum.p === 'a'"}],
"mark": {"type": "line", "strokeWidth": 3.2},
"encoding": {
"x": {"field": "x", "type": "quantitative", "scale": {"domain": [0, 1], "nice": false}, "axis": {"title": "False positive rate", "values": [0, 0.2, 0.4, 0.6, 0.8, 1], "format": ".1f"}},
"y": {"field": "y", "type": "quantitative", "scale": {"domain": [0, 1], "nice": false}, "axis": {"title": "True positive rate", "values": [0, 0.2, 0.4, 0.6, 0.8, 1], "format": ".1f"}},
"color": {"field": "m", "type": "nominal", "scale": {"domain": ["LR (AUROC=0.632)", "LR-SM (AUROC=0.612)", "LR-TL (AUROC=0.629)", "LR-ST (AUROC=0.613)"], "range": ["#1b9e77", "#d95f02", "#7570b3", "#1450f5"]}, "legend": {"title": null, "orient": "none", "legendX": 111, "legendY": 216}},
"order": [{"field": "x", "type": "quantitative"}, {"field": "y", "type": "quantitative"}]
}
},
{
"title": {"text": "(b)"},
"width": 345, "height": 323,
"transform": [{"filter": "datum.p === 'b'"}],
"mark": {"type": "line", "strokeWidth": 3.2},
"encoding": {
"x": {"field": "x", "type": "quantitative", "scale": {"domain": [0, 1], "nice": false}, "axis": {"title": "False positive rate", "values": [0, 0.2, 0.4, 0.6, 0.8, 1], "format": ".1f"}},
"y": {"field": "y", "type": "quantitative", "scale": {"domain": [0, 1], "nice": false}, "axis": {"title": "True positive rate", "values": [0, 0.2, 0.4, 0.6, 0.8, 1], "format": ".1f"}},
"color": {"field": "m", "type": "nominal", "scale": {"domain": ["AdaBoost (AUROC=0.632)", "AdaBoost-SM (AUROC=0.631)", "AdaBoost-TL (AUROC=0.616)", "AdaBoost-ST (AUROC=0.589)"], "range": ["#1b9e77", "#d95f02", "#7570b3", "#1450f5"]}, "legend": {"title": null, "orient": "none", "legendX": 76, "legendY": 219}},
"order": [{"field": "x", "type": "quantitative"}, {"field": "y", "type": "quantitative"}]
}
},
{
"title": {"text": "(c)"},
"width": 345, "height": 323,
"transform": [{"filter": "datum.p === 'c'"}],
"mark": {"type": "line", "strokeWidth": 3.2},
"encoding": {
"x": {"field": "x", "type": "quantitative", "scale": {"domain": [0, 1], "nice": false}, "axis": {"title": "False positive rate", "values": [0, 0.2, 0.4, 0.6, 0.8, 1], "format": ".1f"}},
"y": {"field": "y", "type": "quantitative", "scale": {"domain": [0, 1], "nice": false}, "axis": {"title": "True positive rate", "values": [0, 0.2, 0.4, 0.6, 0.8, 1], "format": ".1f"}},
"color": {"field": "m", "type": "nominal", "scale": {"domain": ["RF (AUROC=0.613)", "RF-SM (AUROC=0.617)", "RF-TL (AUROC=0.626)", "RF-ST (AUROC=0.611)"], "range": ["#1b9e77", "#d95f02", "#7570b3", "#1450f5"]}, "legend": {"title": null, "orient": "none", "legendX": 111, "legendY": 217}},
"order": [{"field": "x", "type": "quantitative"}, {"field": "y", "type": "quantitative"}]
}
},
{
"title": {"text": "(d)"},
"width": 345, "height": 323,
"transform": [{"filter": "datum.p === 'd'"}],
"mark": {"type": "line", "strokeWidth": 3.2},
"encoding": {
"x": {"field": "x", "type": "quantitative", "scale": {"domain": [0, 1], "nice": false}, "axis": {"title": "False positive rate", "values": [0, 0.2, 0.4, 0.6, 0.8, 1], "format": ".1f"}},
"y": {"field": "y", "type": "quantitative", "scale": {"domain": [0, 1], "nice": false}, "axis": {"title": "True positive rate", "values": [0, 0.2, 0.4, 0.6, 0.8, 1], "format": ".1f"}},
"color": {"field": "m", "type": "nominal", "scale": {"domain": ["kNN (AUROC=0.615)", "kNN-SM (AUROC=0.614)", "kNN-TL (AUROC=0.617)", "kNN-ST (AUROC=0.630)"], "range": ["#1b9e77", "#d95f02", "#7570b3", "#1450f5"]}, "legend": {"title": null, "orient": "none", "legendX": 93, "legendY": 217}},
"order": [{"field": "x", "type": "quantitative"}, {"field": "y", "type": "quantitative"}]
}
}
],
"config": {
"font": "Liberation Serif",
"background": "white",
"view": {"stroke": "#000000", "strokeWidth": 3},
"axis": {"grid": false, "domainColor": "#000000", "domainWidth": 3, "tickColor": "#000000", "tickWidth": 3, "tickSize": 8, "labelFont": "Liberation Serif", "labelFontSize": 21, "labelFontWeight": "bold", "labelColor": "#000000", "labelFlush": false, "labelOverlap": false, "titleFont": "Liberation Serif", "titleFontSize": 36, "titleFontWeight": "bold", "titleColor": "#000000"},
"axisX": {"labelPadding": 10, "titlePadding": 11},
"axisY": {"labelPadding": 7, "titlePadding": 5},
"legend": {"symbolType": "stroke", "symbolSize": 1650, "symbolStrokeWidth": 4, "clipHeight": 20, "rowPadding": 0, "padding": 0, "labelOffset": 0, "labelFont": "Liberation Serif", "labelFontSize": 16, "labelFontWeight": "bold", "labelColor": "#000000", "labelLimit": 400},
"title": {"font": "Liberation Serif", "fontSize": 20, "fontWeight": "bold", "color": "#000000", "anchor": "start", "frame": "group", "dx": -25, "baseline": "alphabetic", "offset": 19}
}
}
